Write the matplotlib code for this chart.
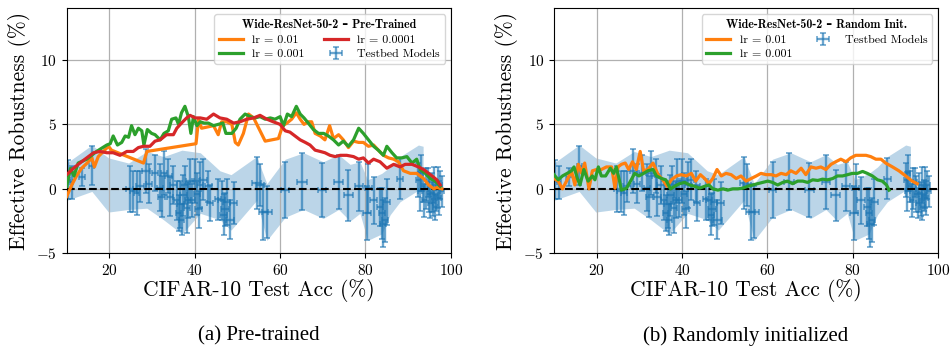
import numpy as np
import matplotlib
matplotlib.use("Agg")
import matplotlib.pyplot as plt

plt.rcParams["font.family"] = "serif"
plt.rcParams["font.serif"] = ["cmr10"]
plt.rcParams["mathtext.fontset"] = "cm"
plt.rcParams["axes.formatter.use_mathtext"] = True

# testbed models: accuracy, effective robustness and their error bars
tb_x = [10.3, 11.2, 13.6, 15.9, 24.8, 25.6, 26.4, 27.1, 28.6, 29.4, 30.7, 31.9, 32.3, 32.7,
        33.8, 34.2, 35.0, 35.8, 36.2, 36.6, 37.0, 37.3, 37.7, 38.1, 38.5, 38.9, 39.3, 40.1,
        40.5, 40.9, 41.3, 42.0, 43.2, 43.6, 45.5, 46.3, 46.8, 47.1, 47.5, 48.3, 49.1, 54.5,
        55.3, 56.1, 56.9, 61.2, 65.1, 69.8, 73.7, 76.0, 78.4, 80.3, 80.7, 81.9, 83.4, 83.8,
        84.1, 84.6, 85.0, 88.1, 92.4, 92.8, 93.0, 93.4, 93.8, 94.2, 94.6, 94.9, 95.2, 95.6,
        95.9, 96.1, 96.3, 96.6, 96.9, 97.2, 97.5, 97.9]
tb_y = [0.7, 0.5, 0.9, 1.8, 0.0, -0.2, -0.3, 0.2, 1.4, 0.4, 1.2, 0.1, -0.6, 1.2,
        1.0, -0.6, 0.3, -0.9, -1.9, -1.2, -2.4, -0.5, 0.3, -1.5, -0.9, 0.6, -0.9, 0.6,
        -0.4, -1.6, 0.3, 0.7, 0.2, -1.1, -0.8, -0.9, -2.0, -1.6, -1.0, -2.4, -1.1, 0.45,
        0.3, -1.8, -1.8, -0.1, 0.55, -0.1, 0.55, -0.5, 0.2, -1.9, 0.05, -0.9, -1.4, -1.9,
        -2.7, -2.4, -1.0, 0.8, 0.7, -0.2, 1.2, 0.2, -0.9, 0.0, 0.5, -0.4, -1.1, -0.3,
        -0.8, 0.3, -1.4, -0.5, 0.1, -0.7, 0.3, -0.2]
tb_xerr = [0.4, 0.4, 0.8, 0.6, 0.8, 0.8, 0.6, 0.9, 0.9, 0.7, 0.8, 0.7, 0.8, 0.7,
           0.8, 0.8, 0.9, 0.7, 0.6, 0.8, 0.6, 0.8, 0.8, 0.7, 0.7, 0.9, 0.8, 0.8,
           0.7, 0.8, 0.7, 0.8, 0.9, 0.7, 0.7, 0.8, 0.8, 0.9, 0.8, 1.0, 0.8, 1.0,
           0.9, 1.0, 1.1, 0.9, 1.1, 1.0, 1.0, 1.0, 0.9, 1.0, 0.8, 0.9, 0.8, 0.7,
           0.8, 0.7, 0.8, 0.8, 0.5, 0.5, 0.5, 0.5, 0.5, 0.5, 0.5, 0.5, 0.5, 0.5,
           0.5, 0.5, 0.5, 0.5, 0.5, 0.5, 0.5, 0.5]
tb_yerr = [1.5, 1.3, 0.7, 1.5, 1.8, 1.6, 1.7, 1.2, 1.7, 1.5, 1.4, 1.8, 1.6, 1.7,
           1.3, 1.5, 1.5, 1.5, 1.4, 1.8, 1.2, 1.6, 1.5, 1.9, 1.4, 1.7, 1.3, 1.7,
           1.6, 1.4, 1.8, 1.6, 1.2, 1.4, 1.6, 1.5, 1.6, 1.3, 1.8, 1.5, 1.6, 2.0,
           1.6, 2.2, 2.0, 2.2, 2.2, 2.1, 2.1, 2.0, 1.9, 2.1, 1.9, 1.8, 1.5, 2.0,
           1.8, 1.7, 1.8, 1.6, 1.3, 1.5, 1.4, 1.2, 1.3, 1.6, 1.1, 1.4, 1.2, 1.5,
           1.3, 1.4, 1.0, 1.2, 1.6, 1.3, 1.1, 1.2]

# shaded spread of the testbed models
band_x = [10, 15.9, 19.8, 24.5, 28.8, 32.7, 37.0, 41.3, 45.9, 48.5, 54.5, 56.9, 61.2,
          65.5, 70.1, 73.7, 76.4, 78.7, 80.5, 83.8, 85.8, 88.1, 92.4, 93.5]
band_hi = [2.0, 3.4, 2.4, 2.0, 2.9, 2.5, 3.0, 2.8, 1.4, 1.1, 2.5, 0.4, 2.3,
           2.8, 2.1, 2.65, 1.9, 2.1, 0.7, 1.2, 1.7, 2.5, 3.4, 3.3]
band_lo = [-0.9, -0.2, -1.8, -1.6, -1.5, -2.4, -3.5, -1.9, -2.4, -3.2, -0.9, -4.0, -2.2,
           -1.6, -2.3, -1.6, -2.5, -1.9, -4.0, -3.5, -2.0, -1.0, -0.1, -0.2]

# pre-trained fine-tuning runs
pt_01_x = [10, 11.2, 12.3, 13.5, 14.8, 15.9, 16.5, 17.4, 18.6, 19.8, 20.5, 28.0, 28.8,
           40.3, 40.9, 41.6, 44.4, 45.5, 46.3, 47.5, 48.7, 49.5, 50.2, 51.4, 52.6, 53.8,
           56.5, 59.6, 60.6, 61.6, 62.7, 63.8, 64.7, 65.6, 66.6, 67.4, 68.2, 69.4, 70.5,
           71.6, 72.5, 73.7, 74.8, 76.0, 77.2, 78.4, 79.5, 80.7, 81.9, 83.0, 84.2, 85.4,
           86.6, 87.7, 88.9, 90.5, 92.0, 93.6, 94.8, 96.0, 96.7, 97.9]
pt_01_y = [-0.6, 0.3, 1.0, 1.6, 2.0, 2.4, 1.7, 2.5, 2.9, 3.3, 3.0, 2.0, 2.9,
           3.5, 5.4, 4.7, 4.9, 4.2, 5.2, 5.2, 5.0, 3.6, 3.4, 4.3, 5.8, 5.5,
           3.7, 3.9, 4.9, 5.1, 5.4, 5.9, 5.4, 5.0, 5.2, 5.2, 4.3, 4.1, 3.8,
           4.9, 3.9, 4.2, 3.8, 3.2, 3.7, 3.6, 3.6, 3.3, 3.4, 3.0, 2.6, 2.4,
           2.3, 2.1, 1.4, 1.2, 1.2, 0.8, 0.3, 0.0, 0.1, 0.0]

pt_001_x = [10, 10.9, 11.7, 12.7, 14.7, 17.0, 19.4, 20.2, 20.9, 21.9, 22.9, 23.7, 24.5,
            25.2, 26.0, 26.8, 27.6, 28.1, 28.9, 29.9, 30.7, 31.9, 32.8, 33.8, 34.6, 35.6,
            36.2, 36.9, 37.7, 38.5, 39.1, 39.7, 40.5, 41.3, 42.2, 43.2, 44.4, 45.5, 46.6,
            47.3, 48.7, 49.7, 50.6, 51.8, 53.0, 54.1, 55.3, 56.5, 57.7, 58.8, 60.0, 60.8,
            61.7, 62.7, 63.8, 64.7, 65.6, 66.6, 67.8, 69.0, 70.2, 71.3, 72.5, 73.7, 74.8,
            76.0, 77.2, 78.4, 79.5, 80.7, 81.9, 83.0, 84.2, 85.0, 86.2, 87.3, 88.5, 89.7,
            90.9, 92.0, 92.8, 94.0, 95.2, 96.3, 97.5]
pt_001_y = [0.2, 1.6, 1.0, 2.0, 2.3, 2.9, 3.4, 3.5, 4.1, 3.4, 3.6, 4.1, 4.0,
            4.9, 4.2, 4.7, 4.5, 3.4, 4.6, 4.3, 4.2, 3.8, 4.3, 4.5, 5.4, 5.5,
            5.0, 5.9, 6.4, 5.6, 4.3, 5.6, 4.9, 5.2, 5.1, 5.1, 4.9, 5.0, 5.1,
            4.3, 4.3, 4.7, 5.4, 5.8, 5.6, 5.5, 5.6, 5.4, 5.5, 5.4, 5.6, 4.9,
            5.8, 5.6, 6.4, 5.8, 5.5, 5.1, 4.6, 4.3, 4.3, 4.1, 3.8, 3.4, 3.7,
            3.3, 3.8, 4.7, 4.3, 3.8, 3.3, 3.0, 2.6, 3.3, 2.8, 2.4, 2.4, 2.5,
            2.0, 2.3, 1.5, 1.2, 0.8, 0.6, 0.2]

pt_0001_x = [10, 11.6, 13.1, 14.7, 16.3, 17.8, 19.4, 20.9, 22.5, 24.1, 25.6, 26.8, 28.0,
             29.5, 30.7, 31.9, 33.4, 35.0, 35.8, 36.9, 38.1, 38.9, 40.1, 41.3, 42.8, 44.4,
             45.9, 47.5, 49.1, 50.6, 52.2, 53.8, 55.3, 56.9, 58.4, 60.0, 61.2, 62.3, 63.5,
             64.7, 65.9, 67.0, 68.2, 69.4, 70.5, 71.7, 72.9, 74.1, 75.6, 77.2, 78.4, 79.5,
             80.7, 81.9, 83.4, 85.0, 86.6, 88.1, 89.3, 90.9, 92.4, 93.6, 95.2, 96.7, 97.5]
pt_0001_y = [1.1, 1.6, 2.0, 2.4, 2.8, 2.9, 2.8, 2.8, 2.6, 2.9, 2.9, 3.2, 3.3,
             3.3, 3.7, 3.8, 4.2, 4.2, 4.7, 5.1, 5.5, 5.7, 5.5, 5.5, 5.4, 5.8,
             5.5, 5.4, 5.1, 5.2, 5.4, 5.5, 5.7, 5.4, 5.2, 5.0, 4.5, 4.4, 4.1,
             3.8, 3.6, 3.4, 3.0, 2.9, 2.8, 2.6, 2.5, 2.6, 2.6, 2.5, 2.3, 2.4,
             2.0, 2.3, 2.1, 1.6, 1.9, 1.7, 1.9, 1.9, 1.7, 1.5, 1.1, 0.7, 0.3]

# randomly initialized runs
ri_01_x = [10, 11.0, 12.0, 13.1, 14.1, 14.9, 15.7, 16.5, 17.2, 18.2, 19.0, 20.0, 21.1,
           22.3, 23.5, 24.3, 25.0, 25.8, 26.7, 27.5, 28.4, 29.3, 30.2, 31.0, 32.0, 33.2,
           34.4, 35.5, 36.5, 37.5, 38.7, 39.8, 41.0, 42.2, 43.2, 44.3, 45.3, 46.3, 47.2,
           48.2, 49.2, 50.3, 51.5, 52.7, 53.8, 55.0, 56.2, 57.4, 58.5, 59.7, 60.9, 62.0,
           63.2, 64.4, 65.5, 66.7, 67.9, 69.0, 70.2, 71.4, 72.5, 73.7, 74.9, 76.0, 77.2,
           78.4, 79.5, 80.7, 81.9, 83.1, 84.2, 85.4, 86.6, 87.7, 89.3, 90.8, 92.4, 93.9,
           95.1]
ri_01_y = [0.8, 0.6, 0.0, 0.7, 1.4, 0.3, 1.9, 1.2, 2.0, 0.0, 1.4, 1.5, 1.5,
           1.7, 1.7, 0.05, 1.7, 1.9, 2.0, 1.5, 2.1, 1.5, 2.9, 1.4, 1.5, 2.0,
           1.1, 0.7, 0.2, 0.7, 1.0, 1.1, 1.0, 1.2, 0.6, 1.1, 0.8, 0.4, 0.8,
           1.5, 1.0, 1.2, 1.1, 0.8, 1.0, 0.6, 0.8, 1.0, 1.2, 1.1, 1.1, 1.0,
           1.2, 1.1, 1.4, 1.2, 1.6, 1.1, 1.7, 1.6, 1.7, 1.5, 1.9, 2.1, 2.3,
           2.1, 2.4, 2.6, 2.6, 2.6, 2.5, 2.3, 2.3, 2.0, 1.7, 1.4, 1.0, 0.6,
           0.4]

ri_001_x = [10, 11.0, 12.0, 13.1, 14.1, 14.7, 15.5, 16.1, 17.0, 18.0, 19.0, 19.6, 20.4,
            21.1, 22.1, 23.2, 24.0, 24.6, 25.3, 25.8, 27.0, 28.1, 28.9, 29.9, 31.0, 32.0,
            33.2, 34.0, 35.2, 36.2, 37.3, 38.3, 39.4, 40.6, 41.8, 42.9, 44.1, 45.3, 46.3,
            47.2, 48.4, 49.6, 50.7, 51.9, 53.1, 54.2, 55.4, 56.6, 57.7, 58.9, 60.1, 61.2,
            62.4, 63.6, 64.7, 65.9, 67.1, 68.3, 69.4, 70.6, 71.8, 72.9, 74.1, 75.3, 76.4,
            77.6, 78.8, 79.9, 81.1, 82.3, 83.4, 84.6, 85.8, 86.9, 87.9, 88.5]
ri_001_y = [1.1, 0.7, 1.0, 1.2, 1.4, 1.7, 0.8, 0.3, 1.5, 0.6, 1.0, 0.7, 1.7,
            1.0, 1.0, 1.6, 1.2, 1.7, 0.7, -0.1, 0.05, 0.7, 1.2, 1.0, 1.2, 1.4,
            1.5, 1.0, 0.8, 0.7, 0.0, 0.2, 0.4, 0.5, 0.3, 0.2, 0.05, 0.2, 0.3,
            0.0, -0.1, 0.0, -0.1, 0.0, 0.0, 0.05, 0.2, 0.3, 0.4, 0.5, 0.6, 0.5,
            0.3, 0.5, 0.6, 0.4, 0.6, 0.6, 0.5, 0.7, 0.65, 0.75, 0.7, 0.8, 1.0,
            1.0, 1.1, 1.2, 1.2, 1.35, 1.2, 1.0, 0.7, 0.6, 0.3, -0.1]

panels = [
    {
        "title": "Wide-ResNet-50-2 \u2013 Pre-Trained",
        "runs": [(pt_01_x, pt_01_y, "tab:orange", "lr = 0.01"),
                 (pt_001_x, pt_001_y, "tab:green", "lr = 0.001"),
                 (pt_0001_x, pt_0001_y, "tab:red", "lr = 0.0001")],
        "caption": "(a) Pre-trained",
    },
    {
        "title": "Wide-ResNet-50-2 \u2013 Random Init.",
        "runs": [(ri_01_x, ri_01_y, "tab:orange", "lr = 0.01"),
                 (ri_001_x, ri_001_y, "tab:green", "lr = 0.001")],
        "caption": "(b) Randomly initialized",
    },
]

fig = plt.figure(figsize=(9.51, 3.47), dpi=100)
lefts = [0.0701, 0.5825]
width = 0.404

for left, panel in zip(lefts, panels):
    ax = fig.add_axes([left, 0.270, width, 0.706])
    ax.fill_between(band_x, band_lo, band_hi, color="tab:blue", alpha=0.3, lw=0)
    eb = ax.errorbar(tb_x, tb_y, xerr=tb_xerr, yerr=tb_yerr, fmt="none",
                     ecolor="tab:blue", alpha=0.65, capsize=2, elinewidth=1.7,
                     capthick=1.2, label="Testbed Models")
    ax.axhline(0, color="black", ls="--", lw=1.5, zorder=4)
    handles = []
    for xs, ys, color, label in panel["runs"]:
        ln, = ax.plot(xs, ys, color=color, lw=2.3, label=label, zorder=5)
        handles.append(ln)
    handles.append(eb)

    ax.set_xlim(10, 100)
    ax.set_ylim(-5, 14)
    ax.set_xticks([20, 40, 60, 80, 100])
    ax.set_yticks([-5, 0, 5, 10])
    ax.tick_params(labelsize=11)
    ax.grid(True, color="#b0b0b0", lw=0.9)
    ax.set_xlabel("CIFAR-10 Test Acc (%)", fontsize=15.5, labelpad=1)
    ax.set_ylabel("Effective Robustness (%)", fontsize=15.5, labelpad=4)

    ax.legend(handles=handles, loc="upper right", ncol=2,
              prop={"family": "cmr10", "size": 8.6},
              title=panel["title"],
              title_fontproperties={"family": ["cmb10", "DejaVu Serif"],
                                    "size": 8.6, "weight": "bold"},
              handlelength=2.0, columnspacing=1.6, labelspacing=0.3,
              borderpad=0.4)

    fig.text(left + width / 2, 0.032, panel["caption"], ha="center", va="center",
             fontsize=15, family="Liberation Serif")

fig.savefig("out.png", dpi=100)
